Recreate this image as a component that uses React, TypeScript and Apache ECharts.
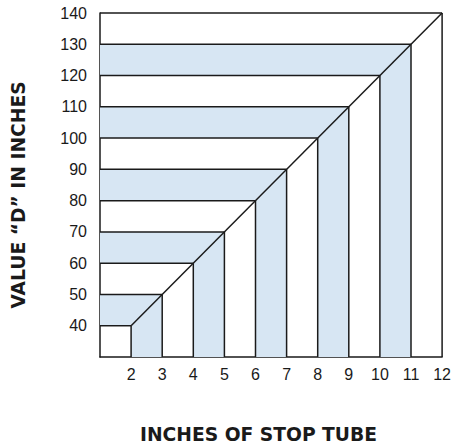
import React, { useEffect, useRef } from "react";
import * as echarts from "echarts";

// Data
const xTicks = [2, 3, 4, 5, 6, 7, 8, 9, 10, 11, 12];
const yTicks = [40, 50, 60, 70, 80, 90, 100, 110, 120, 130, 140];
const shadedStarts = [2, 4, 6, 8, 10]; // x where a shaded L-band starts
const diagonal = [
  [2, 40],
  [12, 140],
];
const xMin = 1;
const xMax = 12;
const yMin = 30;
const yMax = 140;
const dOf = (x: number) => 10 * x + 20; // value D on the diagonal
const xOf = (y: number) => (y - 20) / 10;

const xTitle = "INCHES OF STOP TUBE";
const yTitle = "VALUE \u201CD\u201D IN INCHES";

export default function App() {
  const ref = useRef<HTMLDivElement>(null);
  useEffect(() => {
    document.body.style.margin = "0";
    document.body.style.overflow = "hidden";
    if (!ref.current) return;
    const chart = echarts.init(ref.current, undefined, { renderer: "svg" });
    const lineColor = "#1a1a1a";
    const fill = "#d7e6f3";
    chart.setOption({
      animation: false,
      grid: { left: 100, right: 10, top: 13, bottom: 88 },
      xAxis: {
        type: "value",
        min: xMin,
        max: xMax,
        interval: 1,
        splitLine: { show: false },
        axisTick: { show: false },
        axisLine: { show: true, lineStyle: { color: lineColor, width: 1.5 } },
        axisLabel: {
          margin: 9,
          fontSize: 16,
          color: "#1a1a1a",
          fontFamily: "Liberation Sans",
          formatter: (v: number) => (xTicks.includes(v) ? String(v) : ""),
        },
      },
      yAxis: {
        type: "value",
        min: yMin,
        max: yMax,
        interval: 10,
        splitLine: { show: false },
        axisTick: { show: false },
        axisLine: { show: true, lineStyle: { color: lineColor, width: 1.5 } },
        axisLabel: {
          margin: 13,
          fontSize: 16,
          color: "#1a1a1a",
          fontFamily: "Liberation Sans",
          formatter: (v: number) => (yTicks.includes(v) ? String(v) : ""),
        },
      },
      series: [
        {
          type: "custom",
          data: shadedStarts.map((s) => [s]),
          renderItem: (params: any, api: any) => {
            const s = api.value(0);
            const pts = [
              [xMin, dOf(s)],
              [s, dOf(s)],
              [s, yMin],
              [s + 1, yMin],
              [s + 1, dOf(s + 1)],
              [xMin, dOf(s + 1)],
            ].map((p) => api.coord(p));
            return {
              type: "polygon",
              shape: { points: pts },
              style: { fill },
            };
          },
          z: 1,
        },
        {
          type: "custom",
          data: xTicks.map((x) => [x]),
          renderItem: (params: any, api: any) => {
            const x = api.value(0);
            const a = api.coord([x, yMin]);
            const b = api.coord([x, dOf(x)]);
            return {
              type: "line",
              shape: { x1: a[0], y1: a[1], x2: b[0], y2: b[1] },
              style: { stroke: lineColor, lineWidth: 1.5 },
            };
          },
          z: 2,
        },
        {
          type: "custom",
          data: yTicks.map((y) => [y]),
          renderItem: (params: any, api: any) => {
            const y = api.value(0);
            const a = api.coord([xMin, y]);
            const b = api.coord([xOf(y), y]);
            return {
              type: "line",
              shape: { x1: a[0], y1: a[1], x2: b[0], y2: b[1] },
              style: { stroke: lineColor, lineWidth: 1.5 },
            };
          },
          z: 2,
        },
        {
          type: "line",
          data: diagonal,
          symbol: "none",
          lineStyle: { color: lineColor, width: 1.5 },
          z: 3,
        },
      ],
      graphic: [
        {
          type: "text",
          x: 258.5,
          y: 434,
          style: {
            text: xTitle,
            fontSize: 18.7,
            fontWeight: "bold",
            fontFamily: "DejaVu Sans",
            fill: "#1a1a1a",
            align: "center",
            verticalAlign: "middle",
          },
        },
        {
          type: "text",
          x: 18,
          y: 195,
          rotation: Math.PI / 2,
          style: {
            text: yTitle,
            fontSize: 18.7,
            fontWeight: "bold",
            fontFamily: "DejaVu Sans",
            fill: "#1a1a1a",
            align: "center",
            verticalAlign: "middle",
          },
        },
      ],
    });
    return () => chart.dispose();
  }, []);
  return (
    <div
      ref={ref}
      style={{ position: "absolute", left: 0, top: 0, width: 454, height: 445 }}
    />
  );
}
